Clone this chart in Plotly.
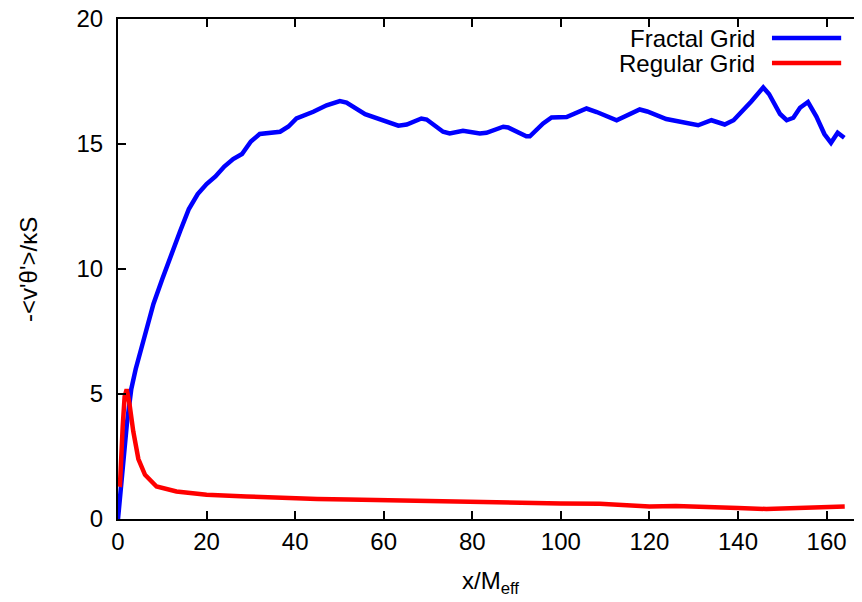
import plotly.graph_objects as go

# Fractal Grid
fractal_x = [0, 1, 2, 3, 4, 6, 8, 10, 12, 14, 16, 18, 20, 22, 24, 26, 28, 30, 32, 34, 36.6,
             38.5, 40.3, 44.1, 47.1, 50.1, 51.6, 55.8, 59.1, 63.3, 65.2, 68.5, 69.7, 73.4,
             74.9, 77.9, 81.7, 83.2, 87.0, 88.1, 92.2, 93.0, 96.0, 97.9, 101.3, 102.8,
             105.8, 108.1, 112.6, 117.8, 119.5, 123.8, 128, 131, 134, 137, 139, 141, 143,
             145.7, 147, 149.5, 151, 152.5, 154, 155.8, 157.7, 159.5, 161, 162.5, 164]
fractal_y = [0.0, 2.0, 3.8, 5.2, 6.0, 7.3, 8.6, 9.6, 10.6, 11.5, 12.4, 13.0, 13.4, 13.7,
             14.1, 14.4, 14.6, 15.1, 15.4, 15.45, 15.49, 15.7, 16.02, 16.29, 16.55, 16.72,
             16.66, 16.19, 15.98, 15.73, 15.78, 16.02, 15.98, 15.49, 15.42, 15.53, 15.42,
             15.45, 15.69, 15.66, 15.31, 15.31, 15.82, 16.06, 16.08, 16.18, 16.42, 16.28,
             15.95, 16.38, 16.3, 16.0, 15.85, 15.75, 15.95, 15.78, 15.95, 16.3, 16.7,
             17.26, 17.0, 16.2, 15.95, 16.05, 16.45, 16.68, 16.1, 15.4, 15.05, 15.45, 15.25]

# Regular Grid
regular_x = [-0.3, 0.45, 1.06, 1.5, 1.96, 2.6, 3.45, 4.6, 6.1, 8.7, 13.2, 20, 29, 36.6, 45,
             52, 60, 68, 76, 84, 92, 100, 108.8, 114, 120, 126, 132, 140, 146.4, 152, 156,
             160, 164.1]
regular_y = [1.4, 1.37, 3.7, 4.9, 5.19, 4.6, 3.5, 2.4, 1.77, 1.30, 1.10, 0.97, 0.90, 0.84,
             0.80, 0.78, 0.75, 0.70, 0.68, 0.66, 0.63, 0.62, 0.61, 0.56, 0.50, 0.52, 0.47,
             0.44, 0.40, 0.42, 0.45, 0.48, 0.50]

series_names = ["Fractal Grid", "Regular Grid"]
series_colors = ["#0000ff", "#ff0000"]

x_ticks = [0, 20, 40, 60, 80, 100, 120, 140, 160]
y_ticks = [0, 5, 10, 15, 20]

FONT = "Liberation Sans, Arial, Helvetica, sans-serif"

fig = go.Figure()
fig.add_trace(go.Scatter(x=fractal_x, y=fractal_y, mode="lines", name=series_names[0],
                         line=dict(color=series_colors[0], width=4.5), showlegend=False))
fig.add_trace(go.Scatter(x=regular_x, y=regular_y, mode="lines", name=series_names[1],
                         line=dict(color=series_colors[1], width=4.5), showlegend=False))

# gnuplot-style key: text on the left, line sample on the right
for i, (name, col) in enumerate(zip(series_names, series_colors)):
    ypos = 0.962 - i * 0.05
    fig.add_annotation(x=0.859, y=ypos, xref="paper", yref="paper", text=name,
                       showarrow=False, xanchor="right", yanchor="middle",
                       font=dict(family=FONT, size=24, color="black"))
    fig.add_shape(type="line", xref="paper", yref="paper", x0=0.879, x1=0.972,
                  y0=ypos, y1=ypos, line=dict(color=col, width=4.5))

# axis titles
fig.add_annotation(x=0.5, y=-0.0925, xref="paper", yref="paper", text="x/M<sub>eff</sub>",
                   showarrow=False, xanchor="center", yanchor="top",
                   font=dict(family=FONT, size=24, color="black"))
fig.add_annotation(x=-0.121, y=0.5, xref="paper", yref="paper", text="-<v'θ'>/κS",
                   showarrow=False, xanchor="center", yanchor="middle", textangle=-90,
                   font=dict(family=FONT, size=24, color="black"))

# page body has an 8px margin: figure is 854x594 placed at (8, 8)
fig.update_layout(
    width=854, height=594,
    margin=dict(l=110, r=0, t=11, b=83, autoexpand=False),
    paper_bgcolor="white", plot_bgcolor="white",
    font=dict(family=FONT, size=24, color="black"),
    xaxis=dict(range=[0, 168], tickvals=x_ticks, ticks="inside", ticklen=8, tickwidth=2,
               tickcolor="black", showline=True, linecolor="black", linewidth=2,
               mirror="ticks", showgrid=False, zeroline=False, automargin=False,
               ticklabeloverflow="allow", tickfont=dict(size=24)),
    yaxis=dict(range=[0, 20], tickvals=y_ticks, ticks="inside", ticklen=8, tickwidth=2,
               tickcolor="black", showline=True, linecolor="black", linewidth=2,
               showgrid=False, zeroline=False, automargin=False, ticklabelstandoff=8,
               ticklabeloverflow="allow", tickfont=dict(size=24)),
)

fig.write_html("out.html")
